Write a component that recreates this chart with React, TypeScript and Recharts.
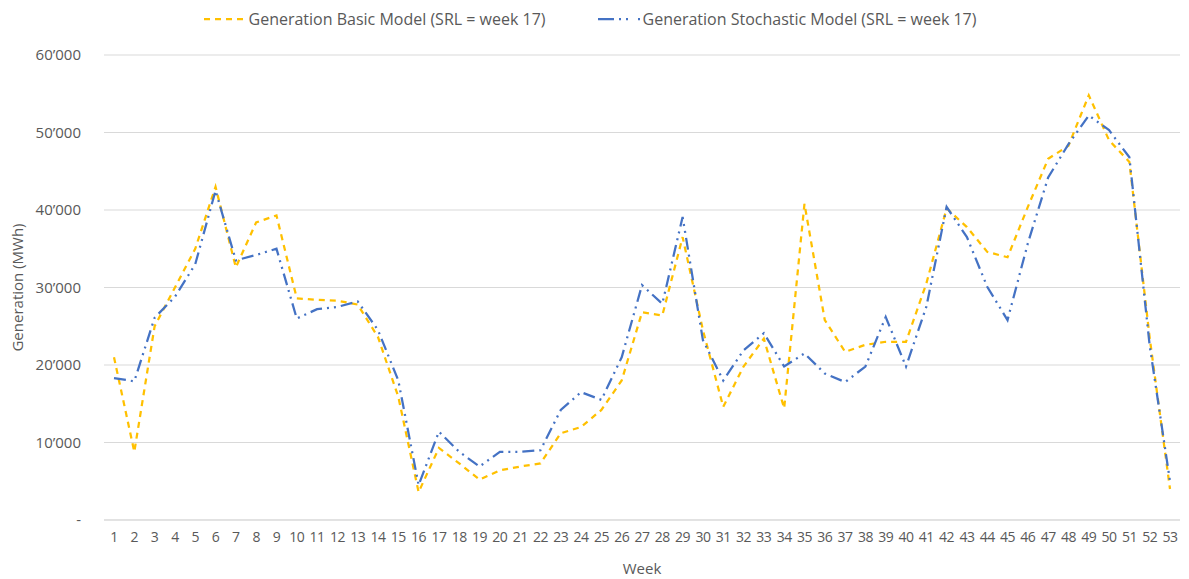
import { CartesianGrid, Legend, Line, LineChart, XAxis, YAxis } from 'recharts';

const weeks = Array.from({ length: 53 }, (_, i) => String(i + 1));

// Generation Basic Model (SRL = week 17), MWh
const basicModel = [
  21000, 8800, 25000, 30000, 35000, 43000, 32600, 38400, 39300, 28600,
  28400, 28300, 27800, 23600, 15900, 3600, 9300, 7300, 5200, 6400,
  6900, 7300, 11200, 12000, 14200, 18000, 26800, 26400, 36500, 24500,
  14600, 19800, 23400, 14400, 40800, 25800, 21700, 22600, 23000, 23000,
  30500, 40200, 37800, 34600, 33900, 40400, 46600, 48300, 54800, 49000,
  46200, 23500, 4000,
];

// Generation Stochastic Model (SRL = week 17), MWh
const stochasticModel = [
  18300, 17900, 26100, 28800, 33000, 42500, 33500, 34200, 35000, 26000,
  27200, 27500, 28200, 24500, 18000, 4500, 11400, 8800, 6900, 8800,
  8800, 9000, 14200, 16500, 15500, 21000, 30300, 27900, 39100, 23200,
  18000, 21900, 24100, 19800, 21500, 18900, 17800, 19800, 26200, 19800,
  27500, 40400, 36500, 30100, 25800, 35700, 44200, 48500, 52200, 50300,
  46800, 22500, 5000,
];

const yTicks = [0, 10000, 20000, 30000, 40000, 50000, 60000];

const data = weeks.map((week, i) => ({
  week,
  basic: basicModel[i],
  stochastic: stochasticModel[i],
}));

const FONT = '"Open Sans", sans-serif';
const TEXT = '#595959';
const YELLOW = '#FFC000';
const BLUE = '#4472C4';

const formatTick = (v: number) =>
  v === 0 ? '-' : `${Math.round(v / 1000)}’000`;

function ChartLegend() {
  const items = [
    { label: 'Generation Basic Model (SRL = week 17)', color: YELLOW, dash: '6 5' },
    { label: 'Generation Stochastic Model (SRL = week 17)', color: BLUE, dash: '16 5 2 5 2 10' },
  ];
  return (
    <div style={{ display: 'flex', justifyContent: 'center', gap: 52, fontFamily: FONT, fontSize: 16, color: TEXT }}>
      {items.map((it) => (
        <div key={it.label} style={{ display: 'flex', alignItems: 'center', gap: 3 }}>
          <svg width={42} height={10}>
            <line x1={0} y1={5} x2={42} y2={5} stroke={it.color} strokeWidth={2.25} strokeDasharray={it.dash} />
          </svg>
          <span>{it.label}</span>
        </div>
      ))}
    </div>
  );
}

export default function App() {
  return (
    <div style={{ position: 'absolute', left: 0, top: 0, width: 1189, height: 579, background: '#fff' }}>
      <LineChart width={1189} height={579} data={data} margin={{ top: 8, right: 9, bottom: 0, left: 0 }}>
        <Legend verticalAlign="top" height={47} content={() => <ChartLegend />} />
        <CartesianGrid vertical={false} stroke="#d9d9d9" />
        <XAxis
          dataKey="week"
          interval={0}
          height={59}
          padding={{ left: 10, right: 10 }}
          tickLine={false}
          axisLine={{ stroke: '#d9d9d9' }}
          tick={{ fill: TEXT, fontSize: 14, fontFamily: FONT, letterSpacing: -0.5 }}
          tickMargin={6}
          label={{ value: 'Week', position: 'insideBottom', offset: 5, fill: TEXT, fontSize: 15, fontFamily: FONT }}
        />
        <YAxis
          width={104}
          domain={[0, 60000]}
          ticks={yTicks}
          tickFormatter={formatTick}
          tickLine={false}
          axisLine={false}
          tickMargin={17}
          tick={{ fill: TEXT, fontSize: 15, fontFamily: FONT }}
          label={{ value: 'Generation (MWh)', angle: -90, position: 'insideLeft', offset: 18, fill: TEXT, fontSize: 15, fontFamily: FONT, style: { textAnchor: 'middle' } }}
        />
        <Line
          type="linear"
          dataKey="basic"
          stroke={YELLOW}
          strokeWidth={2.25}
          strokeDasharray="6 5"
          dot={false}
          isAnimationActive={false}
        />
        <Line
          type="linear"
          dataKey="stochastic"
          stroke={BLUE}
          strokeWidth={2.25}
          strokeDasharray="12 5 2 5 2 5"
          dot={false}
          isAnimationActive={false}
        />
      </LineChart>
    </div>
  );
}
